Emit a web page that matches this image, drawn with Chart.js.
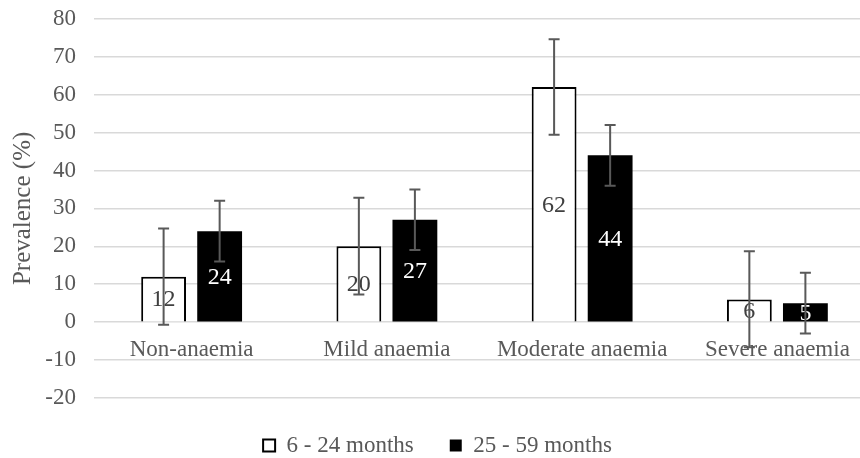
<!DOCTYPE html>
<html lang="en">
<head>
  <meta charset="UTF-8" />
  <title>Prevalence of anaemia</title>
  <script src="https://cdn.jsdelivr.net/npm/chart.js"></script>
  <style>
    html, body { margin: 0; padding: 0; background: #fff; overflow: hidden; }
    .wrap { width: 860px; height: 458px; overflow: hidden; }
    .box { width: 875px; height: 482px; margin-top: -13px; }
  </style>
</head>
<body>
  <div class="wrap"><div class="box"><canvas id="chart"></canvas></div></div>

  <script>
    // Data
    const categories = ["Non-anaemia", "Mild anaemia", "Moderate anaemia", "Severe anaemia"];
    const seriesNames = ["6 - 24 months", "25 - 59 months"];
    const youngValues = [12, 20, 62, 6];
    const olderValues = [24, 27, 44, 5];
    // error bars: lower / upper ends
    const youngLow = [-0.7, 7.3, 49.4, -6.6];
    const youngHigh = [24.7, 32.8, 74.6, 18.7];
    const olderLow = [16, 19, 36, -3];
    const olderHigh = [32, 35, 52, 13];
    const yTicks = [-20, -10, 0, 10, 20, 30, 40, 50, 60, 70, 80];

    const textGrey = "#595959";
    const serif = "'Liberation Serif', 'Times New Roman', serif";

    const errors = [
      { low: youngLow, high: youngHigh },
      { low: olderLow, high: olderHigh }
    ];
    const labelColors = ["#404040", "#ffffff"];

    // labels in the middle of the bars, then error bars on top
    const barExtras = {
      id: "barExtras",
      afterDatasetsDraw(chart) {
        const ctx = chart.ctx;
        const yScale = chart.scales.y;
        ctx.save();
        chart.data.datasets.forEach((ds, di) => {
          const meta = chart.getDatasetMeta(di);
          meta.data.forEach((bar, i) => {
            const mid = (bar.y + bar.base) / 2;
            ctx.fillStyle = labelColors[di];
            ctx.font = "24px " + serif;
            ctx.textAlign = "center";
            ctx.textBaseline = "middle";
            ctx.fillText(String(ds.data[i]), bar.x, mid + 1);
          });
        });
        chart.data.datasets.forEach((ds, di) => {
          const meta = chart.getDatasetMeta(di);
          meta.data.forEach((bar, i) => {
            const top = yScale.getPixelForValue(errors[di].high[i]);
            const bot = yScale.getPixelForValue(errors[di].low[i]);
            ctx.strokeStyle = "#595959";
            ctx.lineWidth = 2;
            ctx.beginPath();
            ctx.moveTo(bar.x, top);
            ctx.lineTo(bar.x, bot);
            ctx.moveTo(bar.x - 5.5, top);
            ctx.lineTo(bar.x + 5.5, top);
            ctx.moveTo(bar.x - 5.5, bot);
            ctx.lineTo(bar.x + 5.5, bot);
            ctx.stroke();
          });
        });
        ctx.restore();
      }
    };

    const ctx = document.getElementById("chart").getContext("2d");
    new Chart(ctx, {
      type: "bar",
      data: {
        labels: categories,
        datasets: [
          {
            label: seriesNames[0],
            data: youngValues,
            backgroundColor: "#ffffff",
            borderColor: "#000000",
            borderWidth: 2
          },
          {
            label: seriesNames[1],
            data: olderValues,
            backgroundColor: "#000000",
            borderColor: "#000000",
            borderWidth: 0
          }
        ]
      },
      options: {
        responsive: true,
        maintainAspectRatio: false,
        animation: false,
        categoryPercentage: 0.574,
        barPercentage: 0.8,
        layout: { padding: { top: -4, right: 0, left: 0, bottom: 2 } },
        plugins: {
          tooltip: { enabled: false },
          legend: {
            position: "bottom",
            labels: {
              color: textGrey,
              font: { family: serif, size: 23 },
              boxWidth: 12,
              boxHeight: 12,
              padding: 36
            }
          }
        },
        scales: {
          x: {
            position: { y: 0 },
            grid: { display: false },
            border: { display: false },
            ticks: {
              color: textGrey,
              font: { family: serif, size: 23 },
              padding: 6,
              maxRotation: 0
            }
          },
          y: {
            min: -20,
            max: 80,
            afterBuildTicks: (scale) => { scale.ticks = yTicks.map(v => ({ value: v })); },
            afterFit: (scale) => { scale.width = 94; },
            grid: { color: "#d9d9d9", lineWidth: 1.5, drawTicks: false },
            border: { display: false },
            ticks: {
              color: textGrey,
              font: { family: serif, size: 23 },
              padding: 18
            },
            title: {
              display: true,
              text: "Prevalence (%)",
              color: textGrey,
              font: { family: serif, size: 25 },
              padding: { top: 8, bottom: 0 }
            }
          }
        }
      },
      plugins: [barExtras]
    });
  </script>
</body>
</html>
